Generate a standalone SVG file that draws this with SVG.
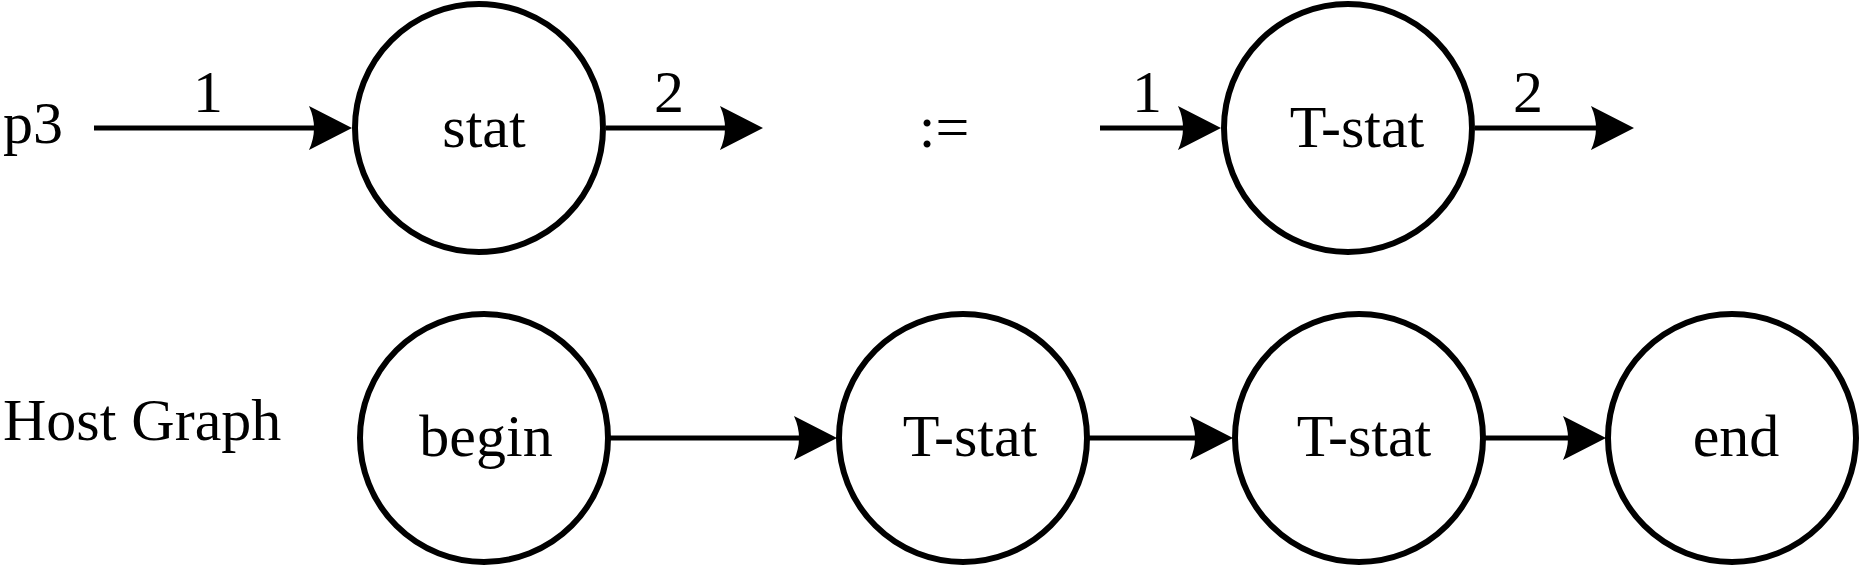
<svg xmlns="http://www.w3.org/2000/svg" xmlns:xlink="http://www.w3.org/1999/xlink" width="1861" height="566" viewBox="0 0 1861 566">
<style>
.node{fill:#fff;stroke:#000;stroke-width:6}
.edge{stroke:#000;stroke-width:5;fill:none}
.head{fill:#000;stroke:none}
.c{text-anchor:middle}
</style>
<defs>
<path id="ah" class="head" d="M0,0 L-43,-22 Q-33,0 -43,22 Z"/>
</defs>
<rect width="1861" height="566" fill="#fff"/>
<g font-family="Liberation Serif" font-size="60" fill="#000">
<g id="labels">
<text x="3" y="143">p3</text>
<text x="3" y="440">Host Graph</text>
<text class="c" x="944" y="147">:=</text>
</g>
<g id="connectors">
<line class="edge" x1="94" y1="128" x2="320" y2="128"/>
<use xlink:href="#ah" x="352" y="128"/>
<text class="c" x="208" y="112">1</text>
<line class="edge" x1="606" y1="128" x2="730" y2="128"/>
<use xlink:href="#ah" x="763" y="128"/>
<text class="c" x="669" y="112">2</text>
<line class="edge" x1="1100" y1="128" x2="1190" y2="128"/>
<use xlink:href="#ah" x="1221" y="128"/>
<text class="c" x="1147" y="112">1</text>
<line class="edge" x1="1475" y1="128" x2="1600" y2="128"/>
<use xlink:href="#ah" x="1634" y="128"/>
<text class="c" x="1528" y="112">2</text>
<line class="edge" x1="610" y1="438" x2="805" y2="438"/>
<use xlink:href="#ah" x="837" y="438"/>
<line class="edge" x1="1089" y1="438" x2="1200" y2="438"/>
<use xlink:href="#ah" x="1233" y="438"/>
<line class="edge" x1="1485" y1="438" x2="1575" y2="438"/>
<use xlink:href="#ah" x="1606" y="438"/>
</g>
<g id="node-stat"><circle class="node" cx="479" cy="128" r="124"/><text class="c" x="484" y="147">stat</text></g>
<g id="node-tstat-rule"><circle class="node" cx="1348" cy="128" r="124"/><text class="c" x="1357" y="147">T-stat</text></g>
<g id="node-begin"><circle class="node" cx="484" cy="438" r="124"/><text class="c" x="486" y="456">begin</text></g>
<g id="node-tstat-1"><circle class="node" cx="963" cy="438" r="124"/><text class="c" x="970" y="456">T-stat</text></g>
<g id="node-tstat-2"><circle class="node" cx="1359" cy="438" r="124"/><text class="c" x="1364" y="456">T-stat</text></g>
<g id="node-end"><circle class="node" cx="1732" cy="438" r="124"/><text class="c" x="1736" y="456">end</text></g>
</g>
</svg>
